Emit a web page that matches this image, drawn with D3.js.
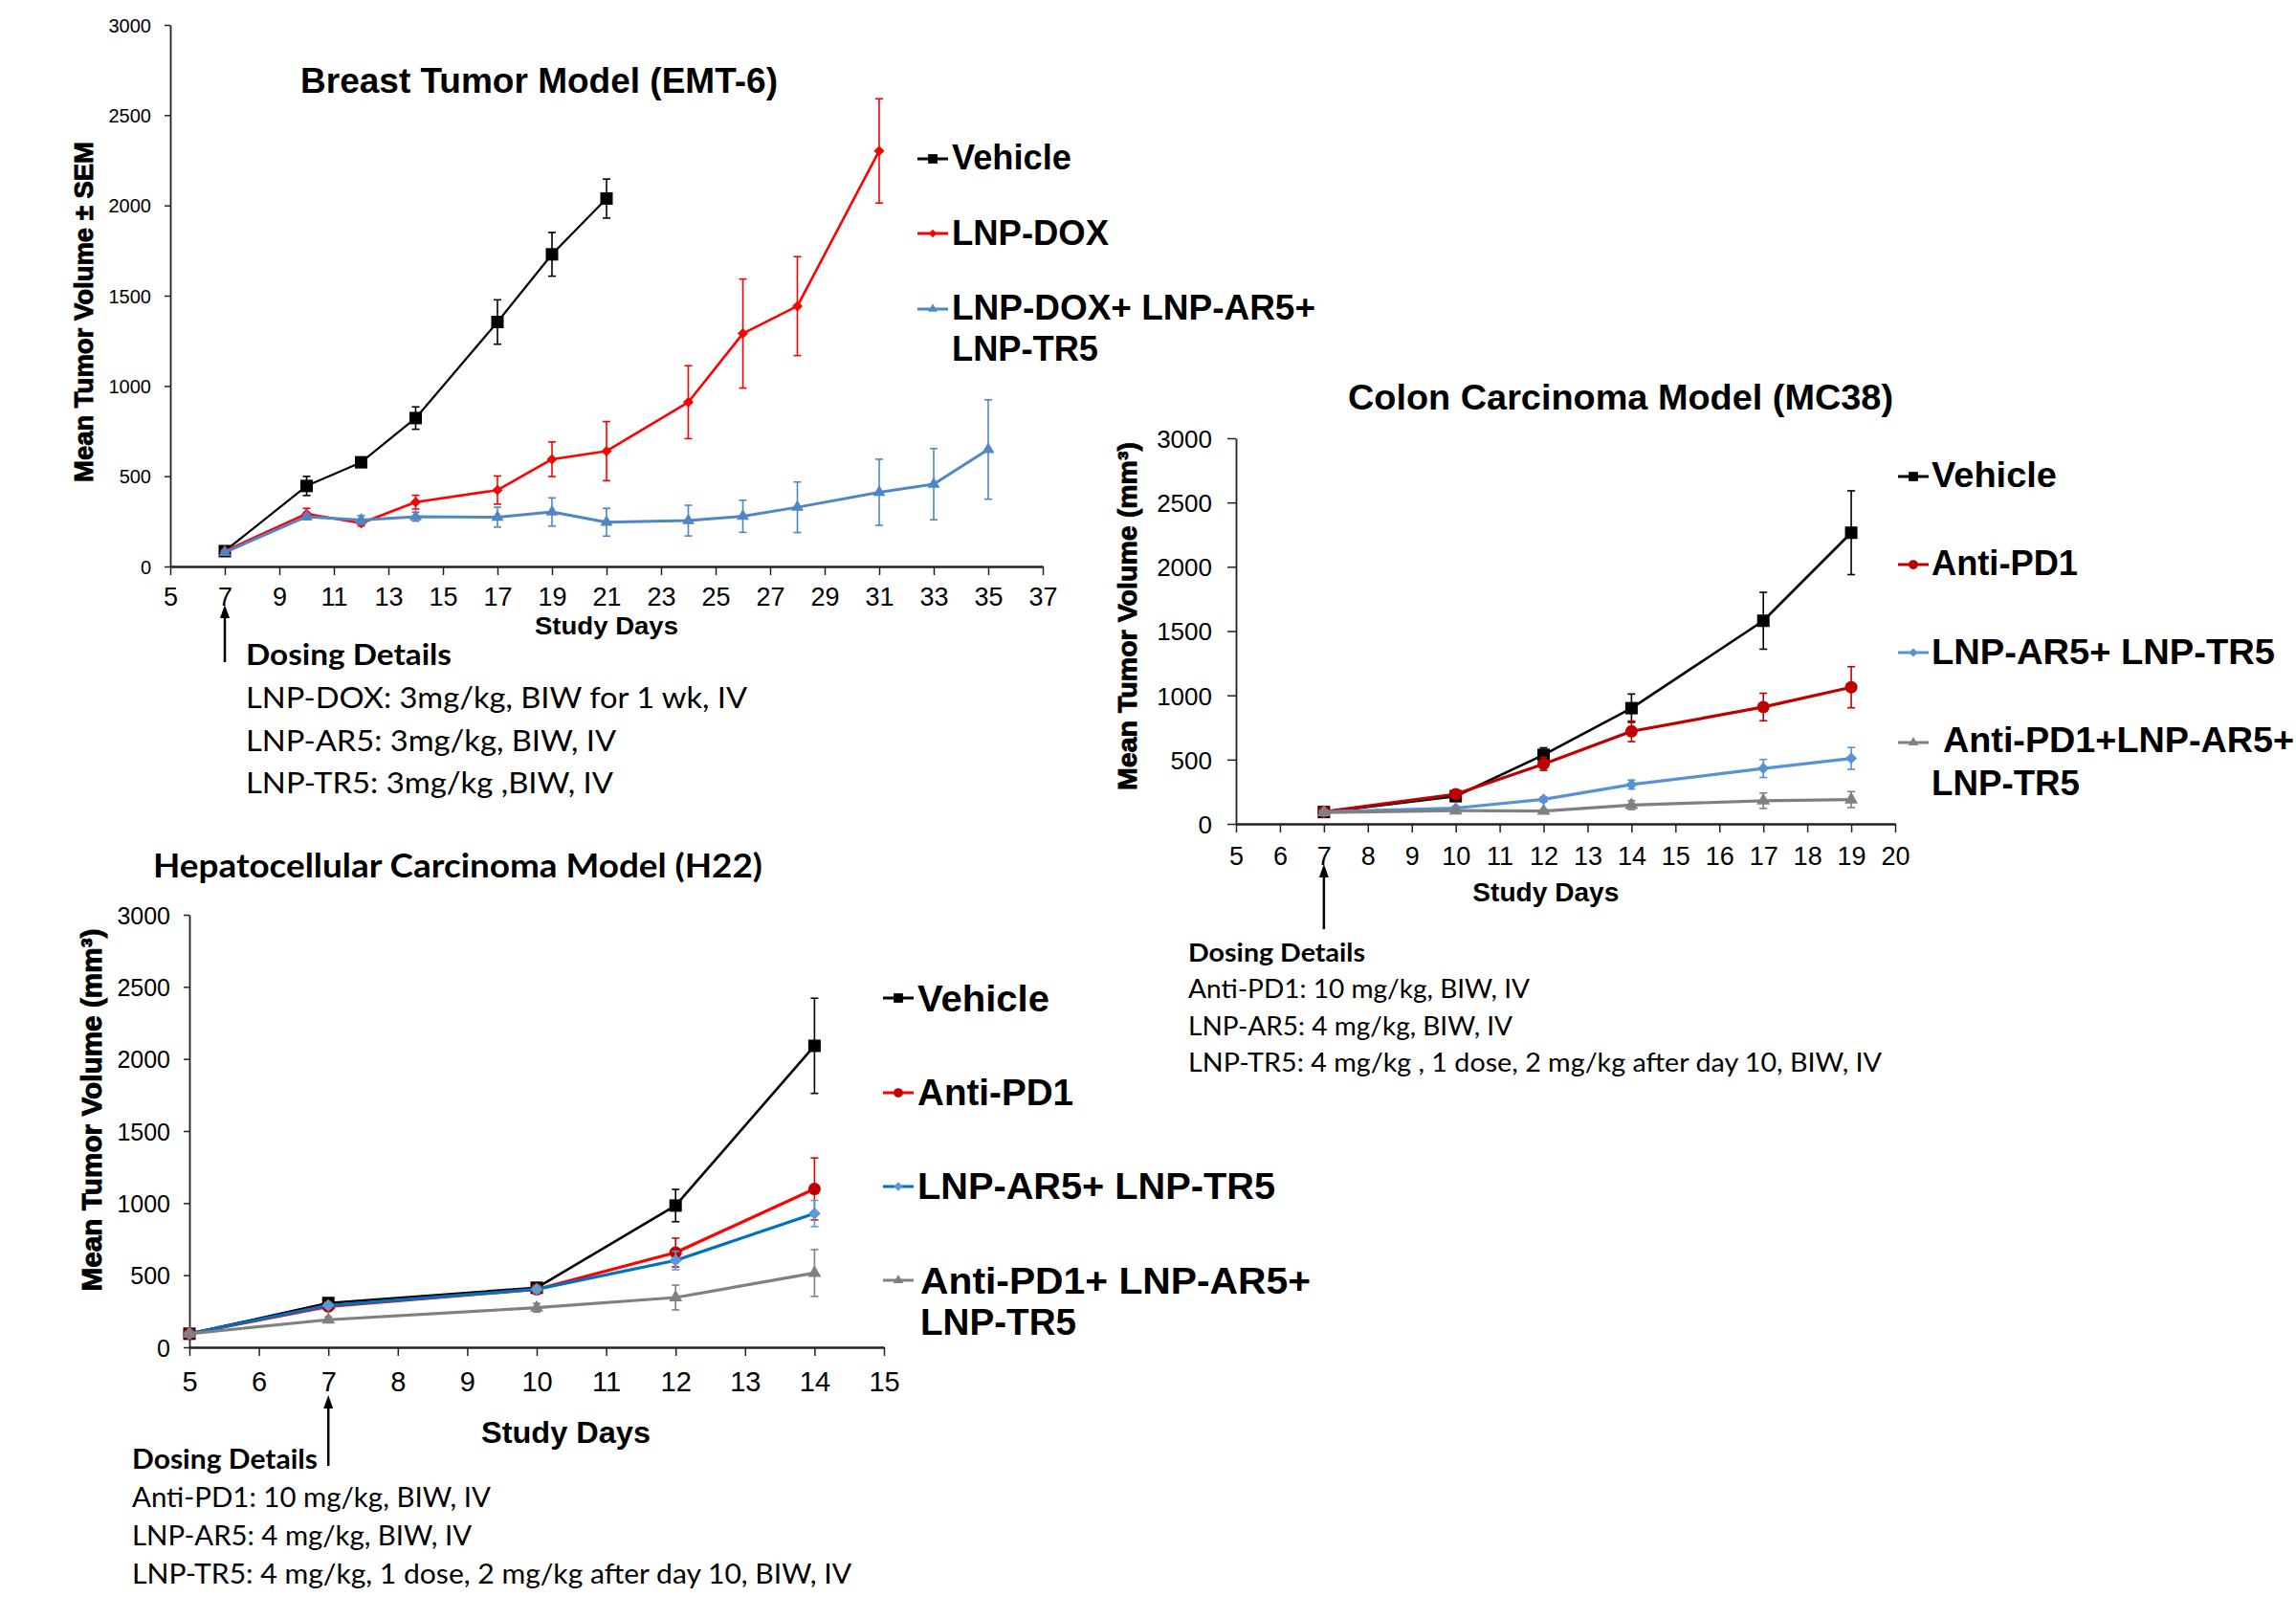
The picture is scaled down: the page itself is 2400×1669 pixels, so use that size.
<!DOCTYPE html>
<html>
<head>
<meta charset="utf-8">
<script src="https://cdn.jsdelivr.net/npm/d3@7"></script>
<style>
  body { margin: 0; background: #fff; }
</style>
</head>
<body>
<script>

//********************* DATA ************************************

// Breast tumor model (EMT-6)
var breastVehicleDays = [7, 10, 12, 14, 17, 19, 21];
var breastVehicle     = [85, 446, 577, 822, 1354, 1729, 2038];
var breastVehicleSem  = [10, 53, 20, 62, 123, 121, 108];
var breastDoxDays     = [7, 10, 12, 14, 17, 19, 21, 24, 26, 28, 31];
var breastDox         = [85, 292, 240, 356, 423, 594, 639, 910, 1290, 1442, 2302];
var breastDoxSem      = [8, 30, 15, 38, 78, 96, 164, 202, 302, 274, 289];
var breastComboDays   = [7, 10, 12, 14, 17, 19, 21, 24, 26, 28, 31, 33, 35];
var breastCombo       = [78, 276, 257, 276, 273, 302, 245, 254, 278, 328, 411, 456, 648];
var breastComboSem    = [8, 15, 25, 25, 55, 78, 77, 85, 89, 140, 183, 197, 275];
var breastXTicks      = [5, 7, 9, 11, 13, 15, 17, 19, 21, 23, 25, 27, 29, 31, 33, 35, 37];
var breastLegend      = ["Vehicle", "LNP-DOX", "LNP-DOX+ LNP-AR5+", "LNP-TR5"];
var breastDosing      = ["LNP-DOX: 3mg/kg, BIW for 1 wk, IV", "LNP-AR5: 3mg/kg, BIW, IV", "LNP-TR5: 3mg/kg ,BIW, IV"];

// Colon carcinoma model (MC38)
var colonDays         = [7, 10, 12, 14, 17, 19];
var colonVehicle      = [92, 215, 537, 900, 1580, 2265];
var colonVehicleSem   = [10, 25, 55, 110, 221, 326];
var colonAntiPd1      = [94, 231, 466, 720, 909, 1063];
var colonAntiPd1Sem   = [10, 20, 50, 80, 107, 160];
var colonLnp          = [94, 123, 191, 306, 431, 509];
var colonLnpSem       = [8, 12, 20, 35, 70, 85];
var colonCombo        = [89, 103, 100, 146, 180, 189];
var colonComboSem     = [8, 15, 15, 35, 60, 62];
var colonXTicks       = [5, 6, 7, 8, 9, 10, 11, 12, 13, 14, 15, 16, 17, 18, 19, 20];
var colonLegend       = ["Vehicle", "Anti-PD1", "LNP-AR5+ LNP-TR5", "Anti-PD1+LNP-AR5+", "LNP-TR5"];
var colonDosing       = ["Anti-PD1: 10 mg/kg, BIW, IV", "LNP-AR5: 4 mg/kg, BIW, IV", "LNP-TR5: 4 mg/kg , 1 dose, 2 mg/kg after day 10, BIW, IV"];

// Hepatocellular carcinoma model (H22)
var hccDays           = [5, 7, 10, 12, 14];
var hccVehicle        = [94, 307, 413, 983, 2091];
var hccVehicleSem     = [10, 20, 25, 112, 330];
var hccAntiPd1        = [94, 283, 402, 657, 1098];
var hccAntiPd1Sem     = [10, 20, 25, 100, 215];
var hccLnp            = [94, 290, 402, 602, 928];
var hccLnpSem         = [8, 15, 20, 64, 91];
var hccCombo          = [94, 191, 274, 345, 515];
var hccComboSem       = [8, 20, 30, 86, 162];
var hccXTicks         = [5, 6, 7, 8, 9, 10, 11, 12, 13, 14, 15];
var hccLegend         = ["Vehicle", "Anti-PD1", "LNP-AR5+ LNP-TR5", " Anti-PD1+ LNP-AR5+", "LNP-TR5"];
var hccDosing         = ["Anti-PD1: 10 mg/kg, BIW, IV", "LNP-AR5: 4 mg/kg, BIW, IV", "LNP-TR5: 4 mg/kg, 1 dose, 2 mg/kg after day 10, BIW, IV"];

var yTicks = [0, 500, 1000, 1500, 2000, 2500, 3000];

var ARIAL = "'Liberation Sans', Arial, sans-serif";
var CALIBRI = "Lato, 'Open Sans', sans-serif";


//********************* CANVAS ************************************

var svg = d3.select("body").append("svg")
    .attr("width", 2400)
    .attr("height", 1669);


//********************* HELPERS ************************************

function addText(g, x, y, str, o) {
  var t = g.append("text")
      .attr("x", x)
      .attr("y", y)
      .attr("font-family", o.family || ARIAL)
      .attr("font-size", o.size)
      .attr("font-weight", o.weight || "normal")
      .attr("text-anchor", o.anchor || "start")
      .attr("fill", "#000")
      .text(str);
  if (o.width) t.attr("textLength", o.width).attr("lengthAdjust", "spacingAndGlyphs");
  if (o.heavy) t.attr("stroke", "#000").attr("stroke-width", o.heavy);
  if (o.rotate) {
    t.attr("dominant-baseline", "central")
     .attr("transform", "rotate(-90," + x + "," + y + ")");
  }
  return t;
}

function marker(g, cx, cy, shape, size, fill) {
  var type = {square: d3.symbolSquare, circle: d3.symbolCircle,
              triangle: d3.symbolTriangle, diamond: d3.symbolSquare}[shape];
  var area = shape == "triangle" ? size * size * 0.433 :
             shape == "circle" ? Math.PI * size * size / 4 :
             shape == "diamond" ? size * size / 2 : size * size;
  var tr = "translate(" + cx + "," + cy + ")" + (shape == "diamond" ? " rotate(45)" : "");
  g.append("path")
      .attr("d", d3.symbol().type(type).size(area)())
      .attr("transform", tr)
      .attr("fill", fill);
}

function drawSeries(g, x, y, days, vals, sem, st) {
  var pts = days.map(function(d, i) { return {day: d, v: vals[i], e: sem[i]}; });

  var eb = g.append("g")
      .attr("stroke", st.errColor || st.color)
      .attr("stroke-width", 1.6);
  pts.forEach(function(p) {
    var px = x(p.day), top = y(p.v + p.e), bot = y(p.v - p.e);
    eb.append("line").attr("x1", px).attr("x2", px).attr("y1", top).attr("y2", bot);
    eb.append("line").attr("x1", px - 4).attr("x2", px + 4).attr("y1", top).attr("y2", top);
    eb.append("line").attr("x1", px - 4).attr("x2", px + 4).attr("y1", bot).attr("y2", bot);
  });

  var line = d3.line()
      .x(function(d) { return x(d.day); })
      .y(function(d) { return y(d.v); });

  g.append("path")
      .datum(pts)
      .attr("d", line)
      .attr("fill", "none")
      .attr("stroke", st.color)
      .attr("stroke-width", st.width)
      .attr("stroke-linejoin", "round");

  pts.forEach(function(p) {
    marker(g, x(p.day), y(p.v), st.shape, st.size, st.markColor || st.color);
  });
}

function legendItem(g, lx, ly, st) {
  g.append("line")
      .attr("x1", lx).attr("x2", lx + 32)
      .attr("y1", ly).attr("y2", ly)
      .attr("stroke", st.color)
      .attr("stroke-width", 3);
  marker(g, lx + 16, ly, st.shape, st.size * 0.75, st.markColor || st.color);
}

function drawPanel(p) {
  var g = svg.append("g");

  var x = d3.scaleLinear().domain(p.xDomain).range([p.left, p.right]);
  var y = d3.scaleLinear().domain([0, 3000]).range([p.bottom, p.top]);

  // x axis
  var xa = g.append("g")
      .attr("transform", "translate(0," + p.bottom + ")")
      .call(d3.axisBottom(x).tickValues(p.xTicks).tickFormat(d3.format("d"))
              .tickSize(9).tickSizeOuter(0));
  xa.select(".domain").attr("stroke", "#222").attr("stroke-width", 2.5);
  xa.selectAll(".tick line").attr("stroke", "#222").attr("stroke-width", 1.5);
  xa.selectAll(".tick text")
      .attr("y", p.xLabelOffset)
      .attr("dy", null)
      .attr("font-family", ARIAL)
      .attr("font-size", p.xTickSize)
      .attr("fill", "#000");

  // y axis
  var ya = g.append("g")
      .attr("transform", "translate(" + p.left + ",0)")
      .call(d3.axisLeft(y).tickValues(yTicks).tickFormat(d3.format("d"))
              .tickSize(p.yTickLen).tickSizeOuter(0));
  ya.select(".domain").attr("stroke", "#222").attr("stroke-width", 1.8);
  ya.selectAll(".tick line").attr("stroke", "#222").attr("stroke-width", 1.5);
  ya.selectAll(".tick text")
      .attr("x", -p.yLabelGap)
      .attr("dy", "0.36em")
      .attr("font-family", ARIAL)
      .attr("font-size", p.yTickSize)
      .attr("fill", "#000");

  // series
  p.series.forEach(function(s) {
    drawSeries(g, x, y, s.days, s.vals, s.sem, s.style);
  });

  // titles
  addText(g, p.title.x, p.title.y, p.title.text, p.title);
  addText(g, x(p.xTitle.center), p.xTitle.y, "Study Days",
          {size: p.xTitle.size, weight: "bold", anchor: "middle", width: p.xTitle.width});
  addText(g, p.yTitle.x, p.yTitle.y, p.yTitle.text,
          {size: p.yTitle.size, weight: "bold", anchor: "middle", width: p.yTitle.width,
           rotate: true, heavy: 0.9});

  // legend
  p.legend.forEach(function(l) {
    if (l.style) legendItem(g, p.legendX, l.lineY, l.style);
    addText(g, l.x, l.y, l.text, {size: p.legendSize, weight: "bold", width: l.width});
  });

  // dosing arrow at day 7
  var ax = x(7);
  g.append("line")
      .attr("x1", ax).attr("x2", ax)
      .attr("y1", p.arrow[0] + 10).attr("y2", p.arrow[1])
      .attr("stroke", "#000").attr("stroke-width", 2.5);
  g.append("path")
      .attr("d", "M" + ax + "," + p.arrow[0] + "L" + (ax - 5) + "," + (p.arrow[0] + 14) +
                 "L" + (ax + 5) + "," + (p.arrow[0] + 14) + "Z")
      .attr("fill", "#000");

  // dosing details
  addText(g, p.dosing.x, p.dosing.y[0], "Dosing Details",
          {family: CALIBRI, size: p.dosing.size, weight: "bold", width: p.dosing.widths[0]});
  p.dosing.lines.forEach(function(s, i) {
    addText(g, p.dosing.x, p.dosing.y[i + 1], s,
            {family: CALIBRI, size: p.dosing.size, width: p.dosing.widths[i + 1]});
  });
}


//********************* STYLES ************************************

var stBlack  = {color: "#000", width: 2.2, shape: "square", size: 13};
var stDox    = {color: "#FF0000", width: 2.6, shape: "diamond", size: 11};
var stBlue1  = {color: "#4F86C6", width: 3, shape: "triangle", size: 13};

var stBlack2 = {color: "#000", width: 2.6, shape: "square", size: 13};
var stRed2   = {color: "#C00000", width: 3.2, shape: "circle", size: 13};
var stBlue2  = {color: "#5592D6", width: 3.2, shape: "diamond", size: 12};
var stGray2  = {color: "#808080", width: 3.2, shape: "triangle", size: 14};

var stBlack3 = {color: "#000", width: 2.6, shape: "square", size: 13};
var stRed3   = {color: "#FF0000", markColor: "#C00000", errColor: "#E00000", width: 3.2, shape: "circle", size: 13};
var stBlue3  = {color: "#0070C0", markColor: "#5B9BD5", errColor: "#5B9BD5", width: 3.2, shape: "diamond", size: 13};
var stGray3  = {color: "#808080", width: 3.2, shape: "triangle", size: 14};


//********************* BREAST PANEL ************************************

drawPanel({
  xDomain: [5, 37], xTicks: breastXTicks,
  left: 178, right: 1090, top: 26, bottom: 592,
  xTickSize: 27, xLabelOffset: 41, yTickSize: 20, yTickLen: 6, yLabelGap: 20,
  series: [
    {days: breastVehicleDays, vals: breastVehicle, sem: breastVehicleSem, style: stBlack},
    {days: breastDoxDays, vals: breastDox, sem: breastDoxSem, style: stDox},
    {days: breastComboDays, vals: breastCombo, sem: breastComboSem, style: stBlue1}
  ],
  title: {x: 314, y: 97, text: "Breast Tumor Model (EMT-6)", size: 36, weight: "bold", width: 499},
  xTitle: {center: 21, y: 663, size: 25, width: 150},
  yTitle: {x: 87, y: 326, text: "Mean Tumor Volume \u00B1 SEM", size: 28, width: 356},
  legendX: 959, legendSize: 36,
  legend: [
    {text: breastLegend[0], x: 995, y: 177, width: 125, lineY: 166, style: stBlack},
    {text: breastLegend[1], x: 995, y: 256, width: 164, lineY: 244, style: stDox},
    {text: breastLegend[2], x: 995, y: 334, width: 380, lineY: 323, style: stBlue1},
    {text: breastLegend[3], x: 995, y: 377, width: 153}
  ],
  arrow: [632, 692],
  dosing: {x: 257, y: [695, 740, 785, 829], size: 31, lines: breastDosing, widths: [215, 524, 387, 384]}
});


//********************* COLON PANEL ************************************

drawPanel({
  xDomain: [5, 20], xTicks: colonXTicks,
  left: 1292, right: 1981, top: 458, bottom: 861,
  xTickSize: 27, xLabelOffset: 43, yTickSize: 26, yTickLen: 9, yLabelGap: 25,
  series: [
    {days: colonDays, vals: colonVehicle, sem: colonVehicleSem, style: stBlack2},
    {days: colonDays, vals: colonAntiPd1, sem: colonAntiPd1Sem, style: stRed2},
    {days: colonDays, vals: colonLnp, sem: colonLnpSem, style: stBlue2},
    {days: colonDays, vals: colonCombo, sem: colonComboSem, style: stGray2}
  ],
  title: {x: 1409, y: 428, text: "Colon Carcinoma Model (MC38)", size: 36, weight: "bold", width: 570},
  xTitle: {center: 12.05, y: 942, size: 27, width: 153},
  yTitle: {x: 1178, y: 644, text: "Mean Tumor Volume (mm\u00B3)", size: 28, width: 364},
  legendX: 1984, legendSize: 37,
  legend: [
    {text: colonLegend[0], x: 2019, y: 509, width: 131, lineY: 498, style: stBlack2},
    {text: colonLegend[1], x: 2019, y: 601, width: 153, lineY: 590, style: stRed2},
    {text: colonLegend[2], x: 2019, y: 694, width: 359, lineY: 682, style: stBlue2},
    {text: colonLegend[3], x: 2031, y: 786, width: 367, lineY: 776, style: stGray2},
    {text: colonLegend[4], x: 2019, y: 831, width: 155}
  ],
  arrow: [903, 971],
  dosing: {x: 1242, y: [1005, 1043, 1082, 1120], size: 27, lines: colonDosing, widths: [185, 357, 339, 725]}
});


//********************* HEPATOCELLULAR PANEL ************************************

drawPanel({
  xDomain: [5, 15], xTicks: hccXTicks,
  left: 198, right: 924, top: 956, bottom: 1408,
  xTickSize: 29, xLabelOffset: 46, yTickSize: 25, yTickLen: 6, yLabelGap: 20,
  series: [
    {days: hccDays, vals: hccVehicle, sem: hccVehicleSem, style: stBlack3},
    {days: hccDays, vals: hccAntiPd1, sem: hccAntiPd1Sem, style: stRed3},
    {days: hccDays, vals: hccLnp, sem: hccLnpSem, style: stBlue3},
    {days: hccDays, vals: hccCombo, sem: hccComboSem, style: stGray3}
  ],
  title: {x: 160, y: 917, text: "Hepatocellular Carcinoma Model (H22)", size: 34, weight: "bold",
          family: CALIBRI, width: 637},
  xTitle: {center: 10.42, y: 1508, size: 32, width: 177},
  yTitle: {x: 96, y: 1160, text: "Mean Tumor Volume (mm\u00B3)", size: 29, width: 379},
  legendX: 923, legendSize: 39,
  legend: [
    {text: hccLegend[0], x: 959, y: 1057, width: 138, lineY: 1043, style: stBlack3},
    {text: hccLegend[1], x: 959, y: 1155, width: 163, lineY: 1142, style: stRed3},
    {text: hccLegend[2], x: 959, y: 1253, width: 374, lineY: 1240, style: stBlue3},
    {text: hccLegend[3], x: 962, y: 1352, width: 408, lineY: 1338, style: stGray3},
    {text: hccLegend[4], x: 962, y: 1395, width: 163}
  ],
  arrow: [1458, 1532],
  dosing: {x: 138, y: [1535, 1575, 1615, 1655], size: 28, lines: hccDosing, widths: [194, 375, 355, 752]}
});

</script>
</body>
</html>
